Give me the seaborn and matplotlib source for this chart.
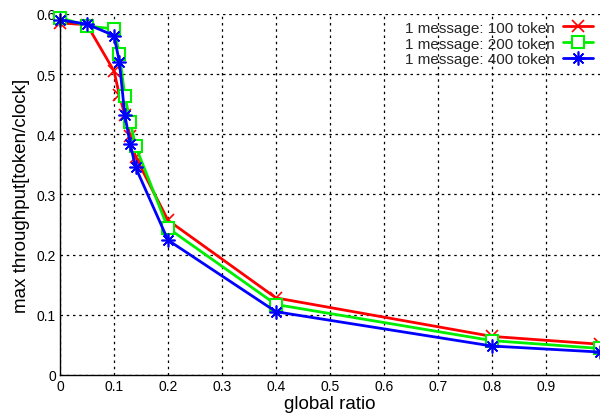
import matplotlib
matplotlib.use("Agg")
import matplotlib.pyplot as plt
import seaborn as sns
import pandas as pd

# global ratio sample points
ratio = [0.0, 0.05, 0.10, 0.11, 0.12, 0.13, 0.14, 0.20, 0.40, 0.80, 1.00]

# max throughput [token/clock] per message size
tp_100 = [0.585, 0.582, 0.505, 0.465, 0.432, 0.397, 0.362, 0.257, 0.128, 0.064, 0.051]
tp_200 = [0.594, 0.580, 0.575, 0.533, 0.464, 0.421, 0.380, 0.244, 0.117, 0.057, 0.044]
tp_400 = [0.590, 0.583, 0.564, 0.520, 0.432, 0.384, 0.345, 0.224, 0.105, 0.048, 0.038]

series_names = ["1 message: 100 token", "1 message: 200 token", "1 message: 400 token"]
series_vals = [tp_100, tp_200, tp_400]

xtick_vals = [0, 0.1, 0.2, 0.3, 0.4, 0.5, 0.6, 0.7, 0.8, 0.9]
xtick_labels = ["0", "0.1", "0.2", "0.3", "0.4", "0.5", "0.6", "0.7", "0.8", "0.9"]
ytick_vals = [0, 0.1, 0.2, 0.3, 0.4, 0.5, 0.6]
ytick_labels = ["0", "0.1", "0.2", "0.3", "0.4", "0.5", "0.6"]

sns.set_theme(style="white")
plt.rcParams["font.family"] = ["Liberation Sans", "DejaVu Sans"]

fig = plt.figure(figsize=(6.0, 4.14), dpi=100)
ax = fig.add_axes([0.10, 0.092, 0.90, 0.872])

styles = [
    dict(color="#ff0000", marker="x", markersize=9, markeredgewidth=1.2,
         markeredgecolor="#ff0000", markerfacecolor="#ff0000"),
    dict(color="#00ee00", marker="s", markersize=8, markeredgewidth=1.5,
         markeredgecolor="#00ee00", markerfacecolor="white"),
    dict(color="#0000ff", marker=(8, 2, 0), markersize=10, markeredgewidth=1.2,
         markeredgecolor="#0000ff", markerfacecolor="#0000ff"),
]

for name, vals, st in zip(series_names, series_vals, styles):
    df = pd.DataFrame({"global ratio": ratio, "throughput": vals})
    sns.lineplot(data=df, x="global ratio", y="throughput", ax=ax,
                 label=name, linewidth=2.0, clip_on=False, **st)

ax.set_xlim(0, 1.0)
ax.set_ylim(0, 0.6)
ax.set_xticks(xtick_vals)
ax.set_xticklabels(xtick_labels)
ax.set_yticks(ytick_vals)
ax.set_yticklabels(ytick_labels)
ax.tick_params(axis="both", labelsize=10, colors="black", pad=3,
               direction="in", length=3, width=0.8)

ax.grid(True, color="black", linestyle=(0, (2, 3)), linewidth=0.9)
ax.set_axisbelow(True)

for side in ("top", "right"):
    ax.spines[side].set_visible(False)
for side in ("left", "bottom"):
    ax.spines[side].set_color("black")
    ax.spines[side].set_linewidth(1.0)

ax.set_xlabel("global ratio", fontsize=13.5, color="black")
ax.set_ylabel("max throughput[token/clock]", fontsize=13.5, color="black")
ax.xaxis.set_label_coords(0.5, -0.055)
ax.yaxis.set_label_coords(-0.056, 0.5)

leg = ax.legend(loc="upper right", frameon=False, markerfirst=False, fontsize=11,
                handlelength=2.0, labelspacing=0.12, borderaxespad=0.05,
                handletextpad=0.5)

fig.savefig("out.png", dpi=100)
